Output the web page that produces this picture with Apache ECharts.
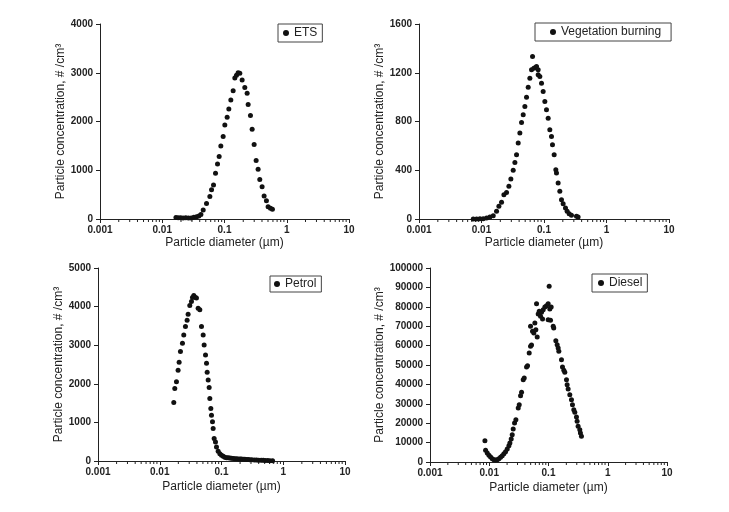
<!DOCTYPE html>
<html>
<head>
<meta charset="utf-8">
<script src="https://cdn.jsdelivr.net/npm/echarts@6/dist/echarts.min.js"></script>
<style>
html,body{margin:0;padding:0;background:#fff}
#chart{width:729px;height:512px}
</style>
</head>
<body>
<div id="chart"></div>
<script>
"use strict";

// particle diameter (um) / concentration (#/cm3)
var etsDiam=[0.0166,0.0180,0.0197,0.0216,0.0239,0.0264,0.0292,0.0322,0.0356,0.0388,0.0418,0.0455,0.0514,0.0582,0.0619,0.0666,0.0717,0.0772,0.0821,0.0873,0.0952,0.1012,0.1103,0.1174,0.1264,0.1377,0.1465,0.1558,0.1657,0.1762,0.1920,0.2119,0.2311,0.2398,0.2613,0.2780,0.2993,0.3223,0.3467,0.3688,0.4018,0.4326,0.4717,0.5019,0.5470,0.5888];
var etsConc=[30,25,25,20,25,20,20,35,45,60,90,185,320,460,600,700,940,1130,1280,1500,1690,1930,2085,2255,2440,2630,2890,2950,3000,2990,2850,2700,2580,2350,2125,1840,1530,1200,1020,810,660,470,375,250,220,200];

var vegDiam=[0.00738,0.00834,0.00943,0.01066,0.01206,0.01363,0.01540,0.01741,0.01898,0.02093,0.02281,0.02516,0.02742,0.02951,0.03216,0.03420,0.03636,0.03866,0.04111,0.04371,0.04648,0.04942,0.05254,0.05586,0.05940,0.06316,0.06551,0.06881,0.07316,0.07589,0.08069,0.08069,0.08580,0.09122,0.09699,0.1031,0.1096,0.1166,0.1239,0.1318,0.1367,0.1454,0.1546,0.1584,0.1684,0.1791,0.1904,0.2024,0.2206,0.2346,0.2524,0.2750,0.3304,0.3513];
var vegConc=[0,0,3,3,8,16,27,63,104,137,200,218,268,328,399,464,527,623,705,792,855,923,1000,1081,1155,1224,1333,1237,1243,1251,1224,1183,1169,1114,1046,964,896,827,732,677,609,527,404,377,295,227,158,126,90,63,44,30,22,16];

var petDiam=[0.01687,0.01751,0.01864,0.01982,0.02060,0.02164,0.02332,0.02449,0.02607,0.02775,0.02880,0.03066,0.03263,0.03386,0.03558,0.03788,0.03932,0.04185,0.04455,0.04742,0.05047,0.05237,0.05508,0.05716,0.05860,0.06082,0.06312,0.06471,0.06716,0.06885,0.07145,0.07325,0.07602,0.07993,0.08295,0.08831,0.09401,0.1000,0.1065,0.113,0.1205,0.128,0.1365,0.145,0.155,0.1645,0.175,0.186,0.1982,0.21,0.225,0.2389,0.255,0.27,0.2878,0.31,0.34,0.3696,0.40,0.44,0.4742,0.51,0.56,0.6084,0.6714];
var petConc=[1517,1880,2054,2348,2556,2834,3050,3267,3484,3648,3804,4029,4133,4237,4289,4237,4220,3960,3917,3484,3267,3007,2747,2530,2296,2097,1906,1620,1360,1187,1014,841,581,494,364,251,191,147,121,100,87,82,78,72,66,61,58,55,52,49,46,43,40,37,35,32,29,26,22,19,17,14,11,9,9];

var dieDiam=[0.00845,0.00867,0.00925,0.00987,0.01053,0.01124,0.01199,0.01279,0.01364,0.01455,0.01553,0.01656,0.01767,0.01885,0.02011,0.02145,0.02230,0.02348,0.02442,0.02537,0.02673,0.02815,0.03083,0.03206,0.03376,0.03510,0.03744,0.03893,0.04259,0.04429,0.04724,0.04975,0.05168,0.04975,0.05372,0.05657,0.05885,0.06119,0.06281,0.06446,0.06704,0.06972,0.07334,0.07628,0.07934,0.08137,0.08679,0.09258,0.09875,0.1026,0.1052,0.1109,0.09875,0.1081,0.1200,0.1226,0.1330,0.1400,0.1456,0.1494,0.1656,0.1722,0.1814,0.1885,0.2011,0.2063,0.2145,0.2289,0.2442,0.2537,0.2673,0.2780,0.2965,0.3041,0.3162,0.3373,0.3459,0.3597];
var dieConc=[11000,6014,4639,3436,2577,1718,1203,1031,1203,1718,2405,3265,4296,5326,6701,8419,9794,11856,14089,17010,20103,21821,27835,29553,34192,35911,42440,43299,48969,49656,56186,59622,60309,69931,67354,66495,71649,68213,81615,64433,76289,77663,75086,77148,73711,78522,79897,80584,81615,90550,78866,79897,73368,73024,69931,69072,62543,60481,58763,57045,52749,48969,47251,46220,42440,39863,37629,34708,32131,29553,26976,25601,23196,20962,18385,16667,14948,13230];

// log axis minor tick positions (2..9 in every decade)
var minorTicks=[0.002,0.003,0.004,0.005,0.006,0.007,0.008,0.009,
  0.02,0.03,0.04,0.05,0.06,0.07,0.08,0.09,
  0.2,0.3,0.4,0.5,0.6,0.7,0.8,0.9,
  2,3,4,5,6,7,8,9];

var xTitle="Particle diameter (\u00b5m)";
var yTitle="Particle concentration, # /cm\u00b3";

var FONT='"Liberation Sans", Arial, sans-serif';
var INK='#222';

var panels=[
  {name:'ETS',diam:etsDiam,conc:etsConc,yMax:4000,yStep:1000,
    grid:{left:100,top:24,width:249,height:195},yGap:30,xGap:18,
    legend:{left:278,top:24,padding:[3,5,3,5]}},
  {name:'Vegetation burning',diam:vegDiam,conc:vegConc,yMax:1600,yStep:400,
    grid:{left:419,top:24,width:250,height:195},yGap:33,xGap:18,
    legend:{left:535,top:23,padding:[3,10,3,15]}},
  {name:'Petrol',diam:petDiam,conc:petConc,yMax:5000,yStep:1000,
    grid:{left:98,top:268,width:247,height:193},yGap:28,xGap:20,
    legend:{left:270,top:276,padding:[2,5,2,4]}},
  {name:'Diesel',diam:dieDiam,conc:dieConc,yMax:100000,yStep:10000,
    grid:{left:430,top:268,width:237,height:194},yGap:42,xGap:20,
    legend:{left:592,top:274,padding:[3,5,3,6]}}
];

var grids=[],xAxes=[],yAxes=[],series=[],legends=[];

panels.forEach(function(p,i){
  grids.push(Object.assign({containLabel:false},p.grid));

  xAxes.push({
    type:'log',logBase:10,gridIndex:i,min:0.001,max:10,
    name:xTitle,nameLocation:'middle',nameGap:p.xGap,
    nameTextStyle:{color:INK,fontFamily:FONT,fontSize:12},
    axisLine:{lineStyle:{color:INK,width:1}},
    axisTick:{length:4,lineStyle:{color:INK}},
    axisLabel:{color:INK,fontFamily:FONT,fontSize:10,fontWeight:'bold',margin:6,
      formatter:function(v){return String(+(+v).toPrecision(6));}},
    splitLine:{show:false}
  });

  yAxes.push({
    type:'value',gridIndex:i,min:0,max:p.yMax,interval:p.yStep,
    name:yTitle,nameLocation:'middle',nameGap:p.yGap,
    nameTextStyle:{color:INK,fontFamily:FONT,fontSize:12},
    axisLine:{show:true,lineStyle:{color:INK,width:1}},
    axisTick:{show:true,length:4,lineStyle:{color:INK}},
    axisLabel:{color:INK,fontFamily:FONT,fontSize:10,fontWeight:'bold',margin:7,
      formatter:function(v){return String(v);}},
    splitLine:{show:false}
  });

  series.push({
    type:'scatter',name:p.name,xAxisIndex:i,yAxisIndex:i,
    symbol:'circle',symbolSize:5,
    itemStyle:{color:'#111',opacity:1},
    data:p.diam.map(function(d,k){return [d,p.conc[k]];}),
    z:3
  });

  // minor ticks under the log axis
  series.push({
    type:'scatter',name:'_minor'+i,xAxisIndex:i,yAxisIndex:i,
    symbol:'rect',symbolSize:[1,3],symbolOffset:[0,1.5],
    itemStyle:{color:INK,opacity:1},silent:true,clip:false,
    data:minorTicks.map(function(v){return [v,0];}),
    z:1
  });

  legends.push({
    data:[p.name],left:p.legend.left,top:p.legend.top,padding:p.legend.padding,
    orient:'horizontal',icon:'circle',itemWidth:6,itemHeight:6,itemGap:4,
    backgroundColor:'#fff',borderColor:'#444',borderWidth:1,
    textStyle:{color:INK,fontFamily:FONT,fontSize:12},
    itemStyle:{opacity:1},
    selectedMode:false
  });
});

var chart=echarts.init(document.getElementById('chart'),null,{renderer:'canvas'});
chart.setOption({
  animation:false,
  backgroundColor:'#fff',
  grid:grids,
  xAxis:xAxes,
  yAxis:yAxes,
  legend:legends,
  series:series
});
</script>
</body>
</html>
